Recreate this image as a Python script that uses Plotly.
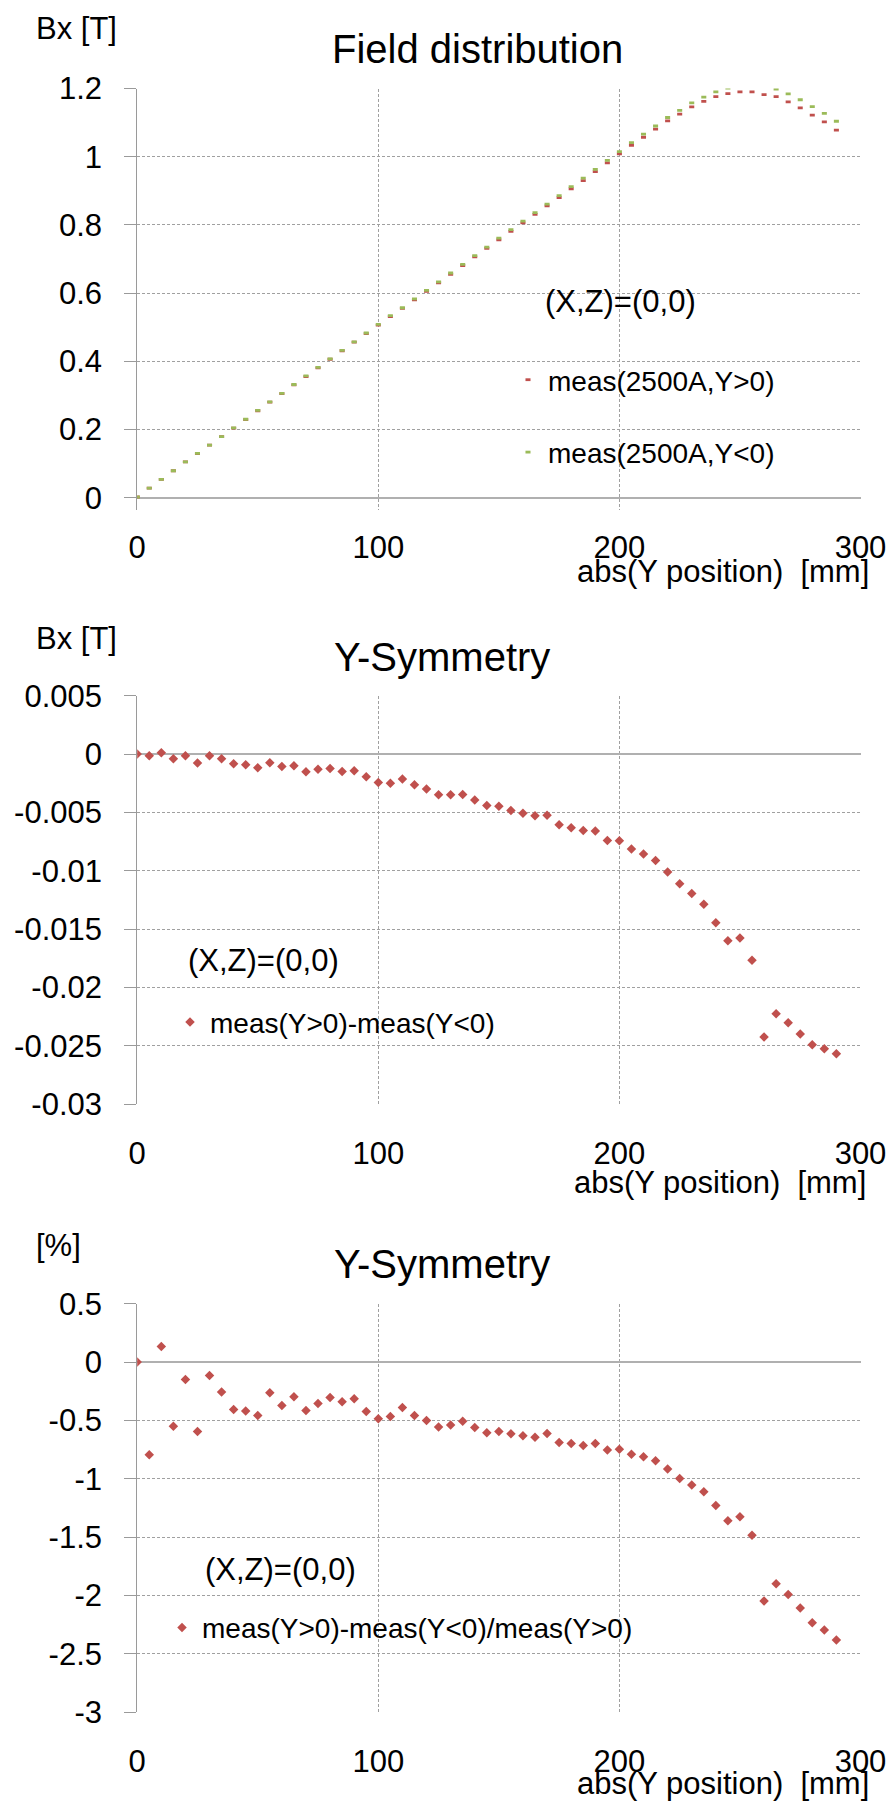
import plotly.graph_objects as go

W, H = 889, 1802
FONT = "Liberation Sans, Arial, sans-serif"
RED = "#C0504D"
GREEN = "#9BBB59"
GRID = "#a0a0a0"
AXLINE = "#9a9a9a"
ZLINE = "#b0b0b0"

# ---------------- data ----------------
y_position_mm = [0, 5, 10, 15, 20, 25, 30, 35, 40, 45, 50, 55, 60, 65, 70, 75, 80, 85, 90, 95,
                 100, 105, 110, 115, 120, 125, 130, 135, 140, 145, 150, 155, 160, 165, 170, 175,
                 180, 185, 190, 195, 200, 205, 210, 215, 220, 225, 230, 235, 240, 245, 250, 255,
                 260, 265, 270, 275, 280, 285, 290]

# Bx [T], Y>0 (red)
bx_y_pos = [0.002, 0.028, 0.054, 0.079, 0.105, 0.129, 0.154, 0.179, 0.204, 0.229, 0.255, 0.280,
            0.305, 0.331, 0.355, 0.381, 0.406, 0.431, 0.456, 0.481, 0.506, 0.531, 0.555, 0.580,
            0.605, 0.630, 0.655, 0.681, 0.706, 0.731, 0.756, 0.781, 0.806, 0.831, 0.856, 0.880,
            0.906, 0.930, 0.956, 0.982, 1.008, 1.033, 1.057, 1.081, 1.105, 1.125, 1.146, 1.162,
            1.176, 1.185, 1.190, 1.190, 1.182, 1.176, 1.161, 1.143, 1.122, 1.102, 1.078]

# Bx [T], Y<0 (green)
bx_y_neg = [0.002, 0.028, 0.054, 0.079, 0.105, 0.130, 0.154, 0.179, 0.205, 0.230, 0.256, 0.281,
            0.306, 0.332, 0.357, 0.382, 0.407, 0.432, 0.457, 0.483, 0.508, 0.534, 0.557, 0.583,
            0.608, 0.633, 0.659, 0.684, 0.710, 0.735, 0.761, 0.786, 0.811, 0.836, 0.861, 0.886,
            0.912, 0.937, 0.963, 0.989, 1.015, 1.041, 1.066, 1.090, 1.115, 1.136, 1.158, 1.175,
            1.190, 1.201, 1.207, 1.209, 1.207, 1.198, 1.184, 1.167, 1.147, 1.127, 1.104]

# meas(Y>0)-meas(Y<0) [T]
sym_diff_T = [0.0, -0.00014, 0.00011, -0.0004, -0.00014, -0.00077, -0.00014, -0.0004, -0.00083,
              -0.00091, -0.00117, -0.00074, -0.00106, -0.001, -0.00151, -0.00131, -0.00123,
              -0.00149, -0.00143, -0.00194, -0.00243, -0.00251, -0.00214, -0.00263, -0.003,
              -0.00349, -0.00349, -0.00346, -0.00394, -0.0044, -0.00446, -0.00483, -0.00506,
              -0.00529, -0.00523, -0.00606, -0.00631, -0.00654, -0.0066, -0.0074, -0.00743,
              -0.00814, -0.00857, -0.00911, -0.01011, -0.01111, -0.01194, -0.01287, -0.01444,
              -0.01599, -0.01576, -0.01767, -0.02424, -0.02224, -0.02301, -0.02398, -0.02489,
              -0.02524, -0.02566]

# (meas(Y>0)-meas(Y<0))/meas(Y>0) [%]
sym_diff_pct = [0.0, -0.794, 0.134, -0.549, -0.149, -0.594, -0.114, -0.257, -0.406, -0.42, -0.457,
                -0.263, -0.371, -0.297, -0.414, -0.354, -0.303, -0.34, -0.314, -0.423, -0.486,
                -0.466, -0.389, -0.457, -0.5, -0.557, -0.54, -0.506, -0.56, -0.606, -0.594,
                -0.614, -0.631, -0.643, -0.611, -0.689, -0.697, -0.714, -0.697, -0.754, -0.746,
                -0.789, -0.811, -0.846, -0.917, -0.997, -1.054, -1.111, -1.228, -1.359, -1.324,
                -1.484, -2.047, -1.898, -1.992, -2.107, -2.232, -2.295, -2.381]

x_tickvals = [0, 100, 200, 300]
x_ticktext = ["0", "100", "200", "300"]
f_tickvals = [0, 0.2, 0.4, 0.6, 0.8, 1.0, 1.2]
f_ticktext = ["0", "0.2", "0.4", "0.6", "0.8", "1", "1.2"]
d_tickvals = [0.005, 0, -0.005, -0.01, -0.015, -0.02, -0.025, -0.03]
d_ticktext = ["0.005", "0", "-0.005", "-0.01", "-0.015", "-0.02", "-0.025", "-0.03"]
p_tickvals = [0.5, 0, -0.5, -1, -1.5, -2, -2.5, -3]
p_ticktext = ["0.5", "0", "-0.5", "-1", "-1.5", "-2", "-2.5", "-3"]

# ---------------- layout helpers ----------------
def fx(px):
    return px / W

def fy(py):
    return 1 - py / H

PLOT_L, PLOT_R = 137.2, 860.5
tickfont = dict(family=FONT, size=31, color="black")


def make_xaxis(anchor, standoff):
    return dict(domain=[fx(PLOT_L), fx(PLOT_R)], range=[0, 300], anchor=anchor,
                tickmode="array", tickvals=x_tickvals, ticktext=x_ticktext,
                showgrid=True, gridcolor=GRID, griddash="3px,2px", gridwidth=1,
                zeroline=False, showline=False, ticks="", tickfont=tickfont,
                ticklabelstandoff=standoff, automargin=False, fixedrange=True)


def make_yaxis(anchor, top_px, bottom_px, rng, tv, tt):
    return dict(domain=[fy(bottom_px), fy(top_px)], range=rng, anchor=anchor,
                tickmode="array", tickvals=tv, ticktext=tt,
                showgrid=True, gridcolor=GRID, griddash="3px,2px", gridwidth=1,
                zeroline=True, zerolinecolor=ZLINE, zerolinewidth=2,
                showline=True, linecolor=AXLINE, linewidth=1,
                ticks="outside", ticklen=12, tickcolor=AXLINE, tickwidth=1,
                tickfont=tickfont, ticklabelstandoff=16, automargin=False, fixedrange=True)


def ann(text, x_px, y_px, size, xanchor="left"):
    return dict(text=text, x=fx(x_px), y=fy(y_px), xref="paper", yref="paper",
                xanchor=xanchor, yanchor="middle", showarrow=False,
                font=dict(family=FONT, size=size, color="black"))


def legend_at(x_px, y_px, gap=0):
    return dict(x=fx(x_px), y=fy(y_px), xanchor="left", yanchor="middle",
                font=dict(family=FONT, size=28, color="black"),
                bgcolor="rgba(0,0,0,0)", borderwidth=0, tracegroupgap=gap,
                traceorder="grouped", itemwidth=30)

# ---------------- figure ----------------
fig = go.Figure()

fig.add_trace(go.Scatter(x=y_position_mm, y=bx_y_pos, mode="markers", name="meas(2500A,Y&gt;0)",
                         marker=dict(symbol="line-ew", size=3.6, color=RED, line=dict(color=RED, width=2.8)),
                         xaxis="x", yaxis="y", legend="legend", legendgroup="p"))
fig.add_trace(go.Scatter(x=y_position_mm, y=bx_y_neg, mode="markers", name="meas(2500A,Y&lt;0)",
                         marker=dict(symbol="line-ew", size=3.6, color=GREEN, line=dict(color=GREEN, width=2.8)),
                         xaxis="x", yaxis="y", legend="legend", legendgroup="n"))
fig.add_trace(go.Scatter(x=y_position_mm, y=sym_diff_T, mode="markers",
                         name="meas(Y&gt;0)-meas(Y&lt;0)",
                         marker=dict(symbol="diamond", size=7.3, color=RED),
                         xaxis="x2", yaxis="y2", legend="legend2"))
fig.add_trace(go.Scatter(x=y_position_mm, y=sym_diff_pct, mode="markers",
                         name="meas(Y&gt;0)-meas(Y&lt;0)/meas(Y&gt;0)",
                         marker=dict(symbol="diamond", size=7.3, color=RED),
                         xaxis="x3", yaxis="y3", legend="legend3"))

axis_title = "abs(Y position)\u00a0 [mm]"

fig.update_layout(
    template="none",
    width=W, height=H, margin=dict(l=0, r=0, t=0, b=0, autoexpand=False),
    paper_bgcolor="white", plot_bgcolor="white", showlegend=True,
    xaxis=make_xaxis("y", 16),
    yaxis=make_yaxis("x", 88.5, 509.5, [-0.0346, 1.2], f_tickvals, f_ticktext),
    xaxis2=make_xaxis("y2", 28),
    yaxis2=make_yaxis("x2", 695.7, 1104.3, [-0.03, 0.005], d_tickvals, d_ticktext),
    xaxis3=make_xaxis("y3", 28),
    yaxis3=make_yaxis("x3", 1303.7, 1712.3, [-3, 0.5], p_tickvals, p_ticktext),
    legend=legend_at(508, 416, 33),
    legend2=legend_at(170, 1022.3),
    legend3=legend_at(162, 1627.7),
    annotations=[
        ann("Bx [T]", 34, 29, 31),
        ann("Field distribution", 477.6, 49, 40, "center"),
        ann("(X,Z)=(0,0)", 543, 302, 31),
        ann(axis_title, 871, 571, 31, "right"),

        ann("Bx [T]", 34, 638.3, 31),
        ann("Y-Symmetry", 441.6, 656.7, 40, "center"),
        ann("(X,Z)=(0,0)", 186, 960.8, 31),
        ann(axis_title, 868, 1182.5, 31, "right"),

        ann("[%]", 34, 1245.8, 31),
        ann("Y-Symmetry", 441.6, 1264.2, 40, "center"),
        ann("(X,Z)=(0,0)", 203, 1569, 31),
        ann(axis_title, 871, 1783.5, 31, "right"),
    ],
)

fig.write_html("out.html")
